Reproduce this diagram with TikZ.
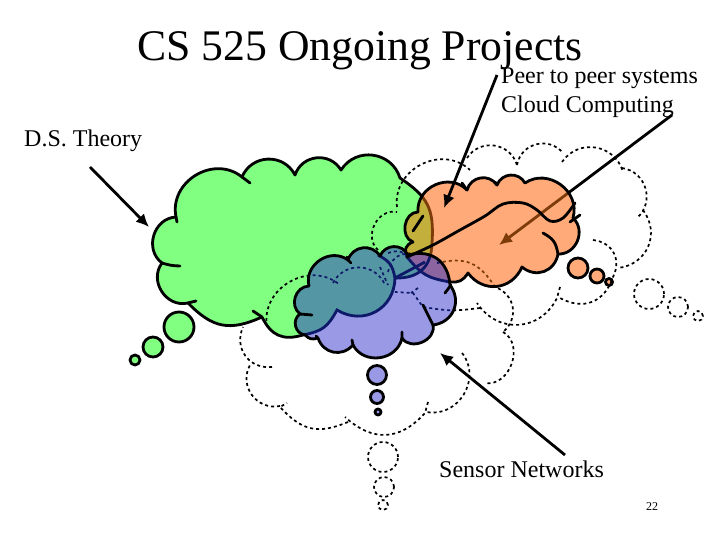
\documentclass[tikz,border=0pt]{standalone}
\usepackage{fontspec}
\setmainfont{Liberation Serif}
\usetikzlibrary{arrows.meta}

\definecolor{cloudgreen}{RGB}{128,255,128}
\definecolor{cloudorange}{RGB}{255,170,120}
\definecolor{cloudblue}{RGB}{153,153,230}
\definecolor{mixolive}{RGB}{195,175,60}
\definecolor{mixteal}{RGB}{85,150,165}
\definecolor{mixpurple}{RGB}{140,100,160}
\definecolor{edgebrown}{RGB}{125,60,10}
\definecolor{edgenavy}{RGB}{15,25,105}

% ===== cloud outlines =====
\newcommand{\greenshape}{(176,217) to[lb=70] (242,177) to[lb=65] (295,175) to[lb=65] (341,170) to[lb=65] (400,178)
  to[lb=30] (432,243) to[lb=45] (395,278) to[lb=60] (337,310) to[lb=25] (303,335) to[lb=40] (262,317)
  to[lb=35] (188,303) to[lb=70] (162,263) to[lb=70] (176,217) -- cycle}
\newcommand{\greenhooks}{(176,217) -- (177,222) (242,177) -- (250,183) (188,303) -- (196,301)
  (162,263) to[bend right=8] (180,266) (253,311) -- (262,317) (338,301) -- (337,310)}
\newcommand{\greeninner}{(378,255) to[lb=25] (395,278) (425,262) -- (395,278)}
\newcommand{\orangeshape}{(418,212) to[lb=70] (467,190) to[lb=65] (497,185) to[lb=65] (525,183) to[lb=70] (573,218)
  to[lb=70] (558,254) to[lb=60] (522,267) to[lb=60] (468,273) to[lb=30] (450,282) to[lb=20] (407,257)
  to[lb=50] (413,242) to[lb=80] (418,212) -- cycle}
\newcommand{\orangehooks}{(423,216) -- (413,231) (462,183) -- (467,190) (570,222) -- (580,215)
  (543,233) to[lb=25] (558,254) (497,185) -- (495,182)}
\newcommand{\blueshape}{(305,335) to[lb=70] (300,314) to[lb=70] (309,286) to[lb=70] (348,260) to[lb=65] (380,256)
  to[lb=65] (408,255) to[lb=50] (450,285) to[lb=60] (433,325) to[lb=80] (402,338) to[lb=70] (353,345)
  to[lb=60] (318,338) to[lb=30] (305,335) -- cycle}
\newcommand{\bluehooks}{(300,314) -- (312,315) (348,260) -- (351,263) (445,293) -- (451,285) (423,305) -- (433,325)
  (347,257) -- (348,260) (402,338) -- (402,332) (353,345) -- (352,340) (318,338) -- (316,336)}
\newcommand{\dashedshape}{(378,250) to[lb=75] (397,212) (397,207) to[lb=70] (470,170) (467,158) to[lb=65] (517,165)
  (517,165) to[lb=65] (563,153) (562,162) to[lb=65] (623,172) (622,168) to[lb=65] (637,218)
  (643,210) to[lb=60] (618,268) (593,240) to[lb=55] (613,277) to[lb=50] (560,298) (560,287) -- (557,298)
  to[lb=60] (477,303) (480,308) to[lb=8] (423,307) -- (413,293) to[lb=5] (395,292) (437,263) to[lb=35] (495,287)
  to[lb=60] (503,332) (418,288) -- (411,293) (272,367) to[lb=60] (243,327) (280,406) to[lb=65] (250,365)
  (348,422) to[lb=35] (280,407) -- (287,403) (428,402) -- (425,413) to[lb=45] (345,417) (462,353) to[lb=70] (427,412)
  (503,332) to[lb=80] (485,383) (267,327) to[lb=70] (340,285) (333,283) to[lb=65] (385,285) (380,267) -- (388,285)
  (388,272) to[lb=35] (410,253) (388,253) to[lb=30] (410,258)}
\newcommand{\wave}{plot[smooth,tension=0.6] coordinates {(407,257) (433,245) (460,230) (485,216) (503,204) (523,203) (537,210)
  (550,221) (563,218) (575,203)}}

\tikzset{
  lb/.style={bend left=#1,looseness=1.2},
  outline/.style={draw=black,line width=2.8pt,line cap=round,line join=round},
  dashline/.style={line width=1.7pt,dash pattern=on 3pt off 3pt},
  pointer/.style={line width=2.8pt,-{Latex[length=13pt,width=12pt]}},
  label/.style={inner sep=0pt,anchor=base west,font=\fontsize{24}{26}\selectfont}
}

\begin{document}
\begin{tikzpicture}[x=1pt,y=-1pt]
  \useasboundingbox (0,0) rectangle (720,540);

  % ===== texts =====
  \node[inner sep=0pt,anchor=base] (title) at (360,61) {\fontsize{43.7}{46}\selectfont CS 525 Ongoing Projects};
  \node[label] (peer) at (501,84) {Peer to peer systems};
  \node[label] (cloudc) at (501,113) {Cloud Computing};
  \node[label] (theory) at (24,147) {D.S. Theory};
  \node[label] (sensor) at (439,477) {Sensor Networks};
  \node[inner sep=0pt,anchor=base] (page) at (652,510) {\fontsize{12}{14}\selectfont 22};

  % ===== thought bubbles =====
  \foreach \x/\y/\r in {179/327/15,153/347/10,135/360/5}{
    \filldraw[outline,fill=cloudgreen] (\x,\y) circle (\r pt);
  }
  \foreach \x/\y/\r in {578/268/10,597/276/7,609/282/3.5}{
    \filldraw[outline,fill=cloudorange] (\x,\y) circle (\r pt);
  }
  \foreach \x/\y/\r in {377/375/9.5,377/397/6.5,378/412/3}{
    \filldraw[outline,fill=cloudblue] (\x,\y) circle (\r pt);
  }
  \foreach \x/\y/\r in {649/294/15,678/307/10,698/316/5,383/457/15,384/487/10,383/505/5}{
    \draw[dashline] (\x,\y) circle (\r pt);
  }

  % ===== green cloud and dashed cloud =====
  \fill[cloudgreen] \greenshape;
  \draw[outline] \greenshape;
  \draw[outline] \greenhooks;
  \draw[dashline] \dashedshape;

  % ===== arrow ends =====
  \coordinate (theorya) at (90,167);
  \coordinate (theoryb) at (149,227);
  \coordinate (peera) at (497,75);
  \coordinate (peerb) at (444,208);
  \coordinate (clouda) at (672,115);
  \coordinate (cloudb) at (499,245);
  \coordinate (sensora) at (565,455);
  \coordinate (sensorb) at (440,353);
  \draw[pointer] (clouda) -- (cloudb);

  % ===== orange cloud, what lies under it turns brown =====
  \fill[cloudorange] \orangeshape;
  \begin{scope}
    \clip \orangeshape;
    \fill[mixolive] \greenshape;
    \draw[line width=2.8pt,edgebrown] \greenshape;
    \draw[line width=2.8pt,edgebrown] \greenhooks;
    \draw[dashline,edgebrown] \dashedshape;
    \draw[pointer,edgebrown] (clouda) -- (cloudb);
  \end{scope}
  \draw[outline] \orangeshape;
  \draw[outline] \orangehooks;

  % ===== blue cloud, what lies under it turns navy =====
  \fill[cloudblue] \blueshape;
  \begin{scope}
    \clip \blueshape;
    \fill[mixteal] \greenshape;
    \fill[mixpurple] \orangeshape;
    \draw[line width=2.8pt,edgenavy] \greenshape;
    \draw[line width=2.8pt,edgenavy] \greeninner;
    \draw[line width=2.8pt,edgenavy] \orangeshape;
    \draw[dashline,edgenavy] \dashedshape;
  \end{scope}
  \draw[outline] \blueshape;
  \draw[outline] \bluehooks;

  % ===== wave and arrows on top =====
  \draw[outline] \wave;
  \draw[pointer] (theorya) -- (theoryb);
  \draw[pointer] (peera) -- (peerb);
  \draw[pointer] (sensora) -- (sensorb);
\end{tikzpicture}
\end{document}
